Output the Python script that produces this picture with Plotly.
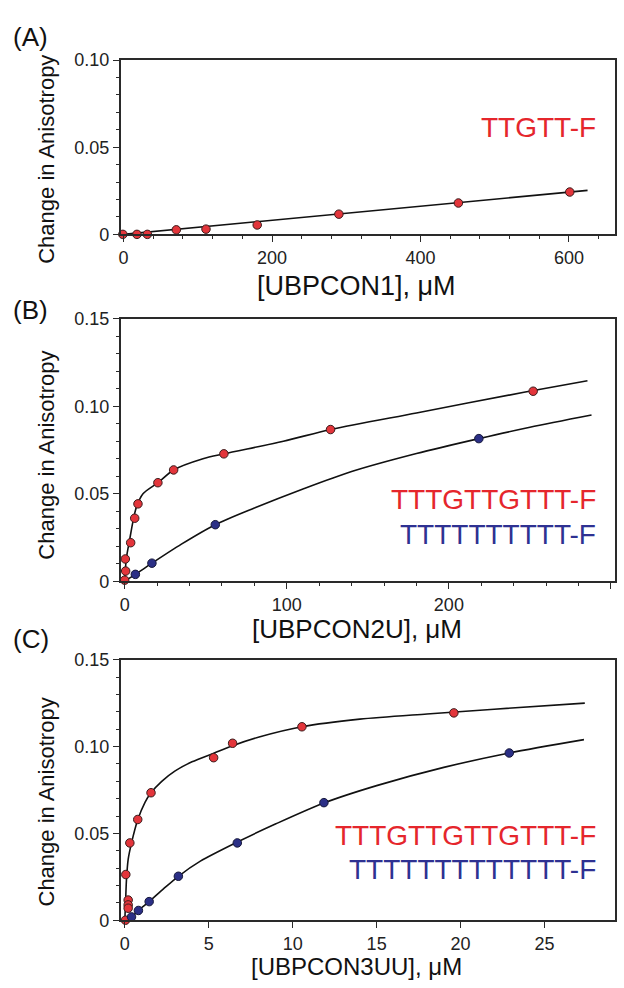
import plotly.graph_objects as go

# ---------------- data ----------------
# (A) TTGTT-F titrated with UBPCON1
a_conc = [-1, 18, 32, 71, 111, 180, 290, 451, 601]
a_aniso = [0.0, 0.0, 0.0, 0.0026, 0.0030, 0.0054, 0.0116, 0.0180, 0.0243]
a_fit_x = [0, 625]
a_fit_y = [0.0, 0.02525]

# (B) UBPCON2U
b_red_conc = [0, 0.4, 0.6, 3.7, 6.2, 8.2, 20.5, 30.2, 61.2, 127, 252]
b_red_aniso = [0.0006, 0.0127, 0.0058, 0.0220, 0.0360, 0.0442, 0.0563, 0.0636, 0.0728, 0.0867, 0.1086]
b_blue_conc = [6.6, 16.8, 55.9, 218.5]
b_blue_aniso = [0.0039, 0.0103, 0.0323, 0.0815]
b_red_fit_x = [0, 1, 3.1, 5.1, 7.2, 11.3, 20.5, 30.2, 48.3, 61.2, 97.9, 127.8, 180, 246.3, 285.5]
b_red_fit_y = [0, 0.0127, 0.0239, 0.0341, 0.0422, 0.0500, 0.0563, 0.0636, 0.0700, 0.0728, 0.0800, 0.0869, 0.0962, 0.1080, 0.1146]
b_blue_fit_x = [0, 6.6, 16.8, 35, 55.9, 80, 110, 140, 180, 218.5, 250, 288]
b_blue_fit_y = [0, 0.0039, 0.0103, 0.0212, 0.0323, 0.0418, 0.0527, 0.0627, 0.0730, 0.0815, 0.0880, 0.0950]

# (C) UBPCON3UU
c_red_conc = [0.04, 0.2, 0.2, 0.2, 0.06, 0.3, 0.77, 1.56, 5.29, 6.42, 10.55, 19.6]
c_red_aniso = [0.0, 0.0116, 0.0088, 0.0069, 0.0263, 0.0445, 0.0580, 0.0734, 0.0936, 0.1019, 0.1114, 0.1194]
c_blue_conc = [0.4, 0.81, 1.45, 3.19, 6.7, 11.86, 22.9]
c_blue_aniso = [0.0019, 0.0056, 0.0107, 0.0253, 0.0445, 0.0677, 0.0963]
c_red_fit_x = [0, 0.05, 0.1, 0.2, 0.4, 0.77, 1.21, 1.56, 2.2, 3.0, 4.0, 5.3, 6.42, 8.0, 10.55, 14, 18, 22, 27.4]
c_red_fit_y = [0, 0.012, 0.0235, 0.035, 0.0445, 0.0578, 0.0680, 0.0734, 0.0800, 0.0860, 0.0912, 0.0962, 0.1005, 0.1055, 0.1114, 0.1158, 0.1188, 0.1215, 0.1250]
c_blue_fit_x = [0, 0.4, 0.81, 1.45, 2.3, 3.19, 4.5, 6.7, 9, 11.86, 15, 19, 22.9, 27.35]
c_blue_fit_y = [0, 0.0019, 0.0056, 0.0107, 0.0180, 0.0253, 0.0340, 0.0450, 0.0555, 0.0675, 0.0775, 0.0880, 0.0963, 0.1040]

# labels
panel_labels = ["(A)", "(B)", "(C)"]
x_titles = ["[UBPCON1], μM", "[UBPCON2U], μM", "[UBPCON3UU], μM"]
y_title = "Change in Anisotropy"
a_legend = ["TTGTT-F"]
b_legend = ["TTTGTTGTTT-F", "TTTTTTTTTT-F"]
c_legend = ["TTTGTTGTTGTTT-F", "TTTTTTTTTTTTT-F"]

# tick spacing (major, minor) per axis
a_xstep = (200, 40)
b_xstep = (100, 20)
c_xstep = (5, None)
y_step = (0.05, 0.01)
y_alias = {"0.00": "0"}

# ---------------- styling ----------------
W, H = 624, 988
FONT = "Liberation Sans, Arial, Helvetica, sans-serif"
RED = "#e3353b"
BLUE = "#2b2f86"
RED_TXT = "#e5262c"
BLUE_TXT = "#2e3192"
AXC = "#2a2a2a"


def fx(p):
    return p / W


def fy(p):
    return 1 - p / H


# plot boxes in page pixels: (top, bottom)
boxes = [(51, 229), (315, 583), (663, 929)]
xl, xr = 119, 615

fig = go.Figure()


def add_points(xs, ys, color, ax):
    fig.add_trace(go.Scatter(
        x=xs, y=ys, mode="markers", xaxis=ax[0], yaxis=ax[1],
        marker=dict(size=8.5, color=color,
                    line=dict(color="#3a1c1c" if color == RED else "#15173a", width=1)),
        cliponaxis=False, showlegend=False, hoverinfo="skip"))


def add_curve(xs, ys, ax, shape="spline"):
    fig.add_trace(go.Scatter(
        x=xs, y=ys, mode="lines", xaxis=ax[0], yaxis=ax[1],
        line=dict(color="#111111", width=1.6, shape=shape, smoothing=0.8),
        showlegend=False, hoverinfo="skip"))


axA = ("x", "y")
axB = ("x2", "y2")
axC = ("x3", "y3")

add_curve(a_fit_x, a_fit_y, axA, shape="linear")
add_points(a_conc, a_aniso, RED, axA)

add_curve(b_red_fit_x, b_red_fit_y, axB)
add_curve(b_blue_fit_x, b_blue_fit_y, axB)
add_points(b_red_conc, b_red_aniso, RED, axB)
add_points(b_blue_conc, b_blue_aniso, BLUE, axB)

add_curve(c_red_fit_x, c_red_fit_y, axC)
add_curve(c_blue_fit_x, c_blue_fit_y, axC)
add_points(c_red_conc, c_red_aniso, RED, axC)
add_points(c_blue_conc, c_blue_aniso, BLUE, axC)


def major(step):
    return dict(
        tickmode="linear", tick0=0, dtick=step,
        ticks="outside", ticklen=6, tickwidth=1.3, tickcolor=AXC,
        showline=True, linecolor=AXC, linewidth=1.5, mirror=True,
        showgrid=False, zeroline=False,
        tickfont=dict(family=FONT, size=18, color="#222"),
    )


def minor_overlay(step, name, side):
    # label-free axis sharing the main scale, carrying only the small ticks
    return dict(
        tickmode="linear", tick0=0, dtick=step, matches=name, overlaying=name, side=side,
        ticks="outside", ticklen=4, tickwidth=1.1, tickcolor=AXC,
        showticklabels=False, showline=False, showgrid=False, zeroline=False,
    )


layout = dict(width=W, height=H, margin=dict(l=0, r=0, t=0, b=0),
              paper_bgcolor="white", plot_bgcolor="white")

xranges = [[-4, 662], [-2.5, 302.5], [-0.25, 29.2]]
yranges = [[0, 0.1001], [0, 0.1501], [0, 0.1501]]
xsteps = [a_xstep, b_xstep, c_xstep]

for i in range(3):
    sx = "" if i == 0 else str(i + 1)
    top, bot = boxes[i]
    xa = major(xsteps[i][0])
    xa.update(domain=[fx(xl), fx(xr)], range=xranges[i], anchor="y" + sx)
    ya = major(y_step[0])
    ya.update(domain=[fy(bot), fy(top)], range=yranges[i], anchor="x" + sx,
              tickformat=".2f", labelalias=y_alias)
    layout["xaxis" + sx] = xa
    layout["yaxis" + sx] = ya

# overlay axes for small ticks (x4..x6 / y4..y6)
for i in range(3):
    sx = "" if i == 0 else str(i + 1)
    k = str(i + 4)
    top, bot = boxes[i]
    if xsteps[i][1]:
        xo = minor_overlay(xsteps[i][1], "x" + sx, "bottom")
        xo.update(domain=[fx(xl), fx(xr)], anchor="y" + sx, range=xranges[i])
        layout["xaxis" + k] = xo
    yo = minor_overlay(y_step[1], "y" + sx, "left")
    yo.update(domain=[fy(bot), fy(top)], anchor="x" + sx, range=yranges[i])
    layout["yaxis" + k] = yo

fig.update_layout(**layout)

# invisible anchors so the overlay axes are drawn
for i in range(3):
    k = str(i + 4)
    sx = "" if i == 0 else str(i + 1)
    xref = ("x" + k) if xsteps[i][1] else ("x" + sx)
    fig.add_trace(go.Scatter(x=[xranges[i][0]], y=[yranges[i][0]], xaxis=xref, yaxis="y" + k,
                             mode="markers", marker=dict(opacity=0), showlegend=False,
                             hoverinfo="skip"))
    if xsteps[i][1]:
        fig.add_trace(go.Scatter(x=[xranges[i][0]], y=[yranges[i][0]], xaxis="x" + k,
                                 yaxis="y" + sx, mode="markers", marker=dict(opacity=0),
                                 showlegend=False, hoverinfo="skip"))

ann = []
# panel letters
for lab, ypx in zip(panel_labels, [28, 306, 642]):
    ann.append(dict(text=lab, x=fx(9), y=fy(ypx), xref="paper", yref="paper",
                    xanchor="left", yanchor="middle", showarrow=False,
                    font=dict(family=FONT, size=26, color="#111")))
# x-axis titles
for lab, ypx, fs in zip(x_titles, [282, 632, 976], [27, 26, 24]):
    ann.append(dict(text=lab, x=fx(356), y=fy(ypx), xref="paper", yref="paper",
                    xanchor="center", yanchor="middle", showarrow=False,
                    font=dict(family=FONT, size=fs, color="#111")))
# y-axis titles
for ypx in [152, 454, 808]:
    ann.append(dict(text=y_title, x=fx(45), y=fy(ypx), xref="paper", yref="paper",
                    xanchor="center", yanchor="middle", textangle=-90, showarrow=False,
                    font=dict(family=FONT, size=22, color="#111")))
# sequence labels
seq = [(a_legend[0], RED_TXT, 120), (b_legend[0], RED_TXT, 500), (b_legend[1], BLUE_TXT, 535),
       (c_legend[0], RED_TXT, 843), (c_legend[1], BLUE_TXT, 877)]
for txt, col, ypx in seq:
    ann.append(dict(text=txt, x=fx(598), y=fy(ypx), xref="paper", yref="paper",
                    xanchor="right", yanchor="middle", showarrow=False,
                    font=dict(family=FONT, size=28, color=col)))
fig.update_layout(annotations=ann)

fig.write_html("out.html")
